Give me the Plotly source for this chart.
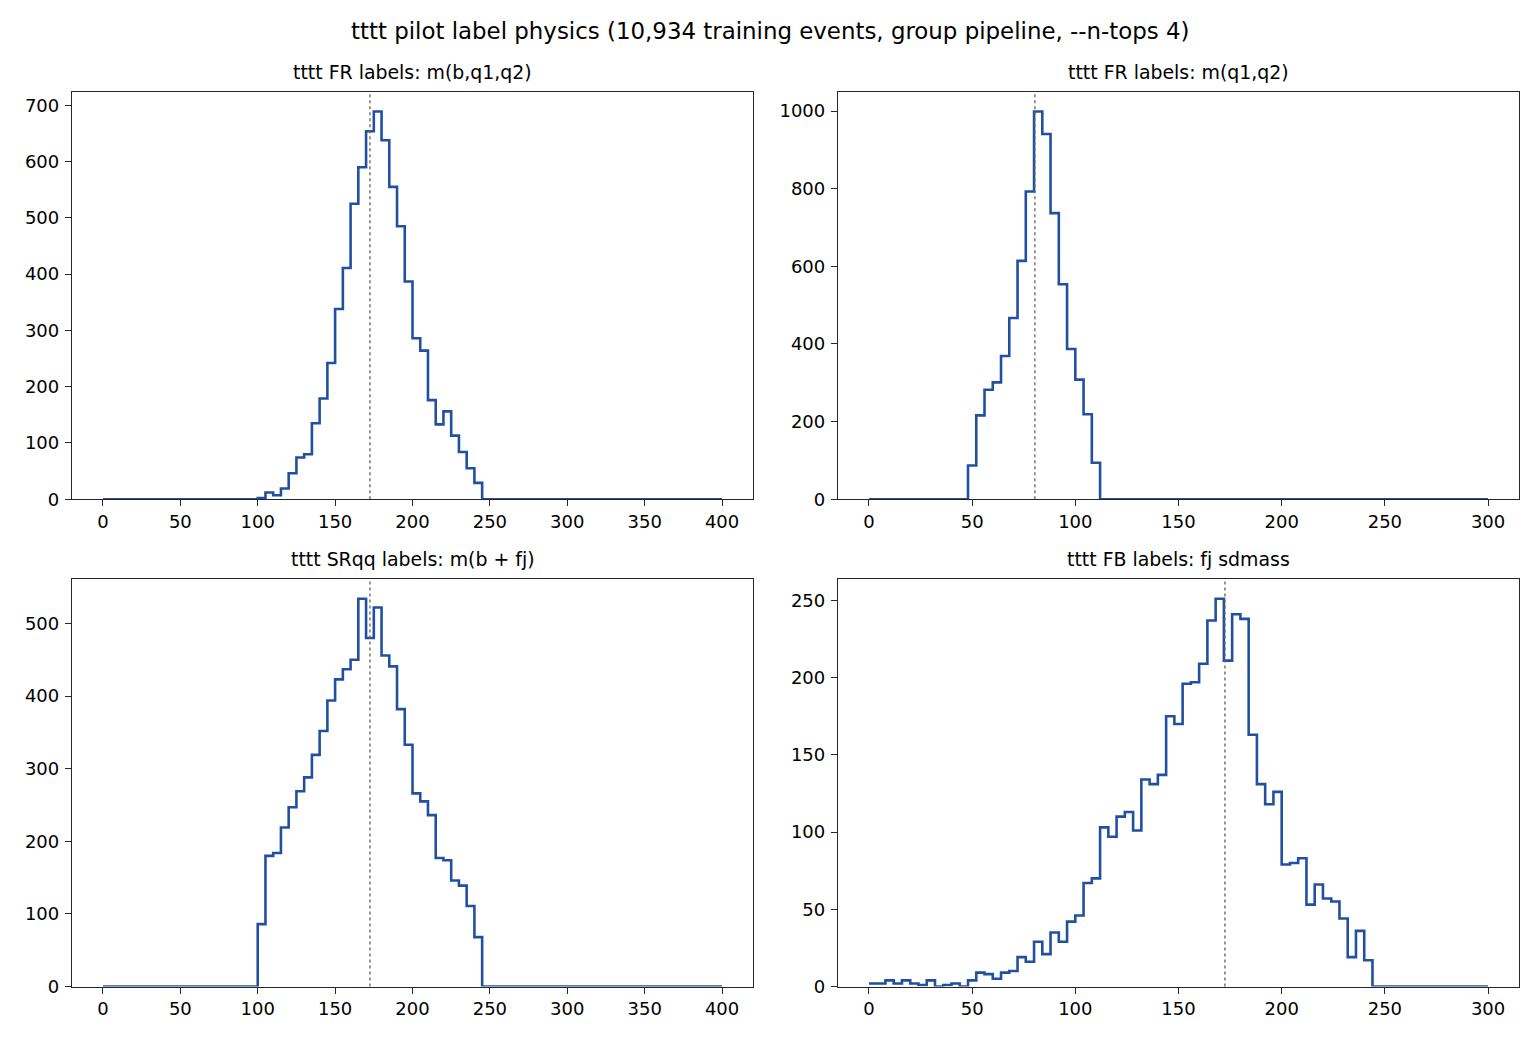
import numpy as np
import plotly.graph_objects as go

SUPTITLE = "tttt pilot label physics (10,934 training events, group pipeline, --n-tops 4)"

panel_titles = [
    "tttt FR labels: m(b,q1,q2)",
    "tttt FR labels: m(q1,q2)",
    "tttt SRqq labels: m(b + fj)",
    "tttt FB labels: fj sdmass",
]

# Histogram definitions: full range, bin width, first non-empty bin edge, counts
fr_bqq_range = (0, 400)
fr_bqq_width = 5
fr_bqq_first = 100
fr_bqq_counts = [2, 12, 7, 19, 46, 74, 80, 135, 179, 242, 338, 411, 525, 590, 654,
                 689, 638, 555, 485, 387, 286, 264, 176, 133, 156, 113, 84, 55, 29]

fr_qq_range = (0, 300)
fr_qq_width = 4
fr_qq_first = 48
fr_qq_counts = [87, 216, 282, 301, 369, 467, 614, 793, 999, 941, 737, 554, 387, 308, 219, 94]

srqq_range = (0, 400)
srqq_width = 5
srqq_first = 100
srqq_counts = [86, 180, 184, 219, 247, 269, 288, 319, 352, 394, 423, 437, 450, 534, 480,
               522, 456, 441, 382, 333, 266, 255, 236, 177, 174, 146, 139, 111, 68]

fb_range = (0, 300)
fb_width = 4
fb_first = 0
fb_counts = [2, 2, 4, 2, 4, 2, 1, 4, 0, 1, 2, 0, 4, 9, 8, 5, 9, 10, 19, 16, 29, 21, 35, 29,
             42, 46, 67, 70, 103, 97, 110, 113, 101, 134, 131, 137, 175, 170, 196, 197, 209,
             237, 251, 211, 241, 238, 163, 131, 118, 126, 79, 80, 83, 53, 66, 57, 55, 44, 19,
             36, 17]

ref_lines = [172.5, 80.4, 172.5, 172.5]

y_dtick = [100, 200, 100, 50]

hists = [
    (fr_bqq_range, fr_bqq_width, fr_bqq_first, fr_bqq_counts),
    (fr_qq_range, fr_qq_width, fr_qq_first, fr_qq_counts),
    (srqq_range, srqq_width, srqq_first, srqq_counts),
    (fb_range, fb_width, fb_first, fb_counts),
]

W, H = 1540, 1050
# plot-area boxes in pixels (left, right, top, bottom)
boxes = [(72, 753, 93, 504), (838, 1519, 93, 504), (72, 753, 585, 996), (838, 1519, 585, 996)]

LINE_COLOR = "#2150a0"
FONT = "DejaVu Sans"
AX_COLOR = "#262626"

fig = go.Figure()
layout = dict(
    autosize=True, margin=dict(l=0, r=0, t=0, b=0, pad=0),
    paper_bgcolor="white", plot_bgcolor="white", showlegend=False,
    font=dict(family=FONT, color="black", size=18),
)
annotations = []
shapes = []
for i, ((lo, hi), w, first, counts) in enumerate(hists):
    edges = np.arange(lo, hi + w / 2, w, dtype=float)
    full = np.zeros(len(edges) - 1)
    start = int(round((first - lo) / w))
    full[start:start + len(counts)] = counts
    xs = edges
    ys = np.append(full, full[-1])
    n = i + 1
    xa = "x" if n == 1 else f"x{n}"
    ya = "y" if n == 1 else f"y{n}"
    fig.add_trace(go.Scatter(x=xs, y=ys, mode="lines", line=dict(shape="hv", color=LINE_COLOR, width=2.6),
                             xaxis=xa, yaxis=ya, hoverinfo="skip"))
    l, r, t, b = boxes[i]
    xdom = [l / W, r / W]
    ydom = [1 - b / H, 1 - t / H]
    span = hi - lo
    ymax = max(counts) * 1.05
    axcommon = dict(showline=True, mirror=True, linecolor=AX_COLOR, linewidth=1.3,
                    ticks="outside", ticklen=6, tickwidth=1.3, tickcolor=AX_COLOR,
                    showgrid=False, zeroline=False, layer="above traces",
                    tickfont=dict(family=FONT, size=18, color="black"))
    layout["xaxis" if n == 1 else f"xaxis{n}"] = dict(
        domain=xdom, range=[lo - 0.05 * span, hi + 0.05 * span], anchor=ya,
        tick0=0, dtick=50, **axcommon)
    layout["yaxis" if n == 1 else f"yaxis{n}"] = dict(
        domain=ydom, range=[0, ymax], anchor=xa, tick0=0, dtick=y_dtick[i],
        ticklabelstandoff=2, **axcommon)
    shapes.append(dict(type="line", xref=xa, yref=f"{ya} domain", x0=ref_lines[i], x1=ref_lines[i],
                       y0=0, y1=1, line=dict(color="rgba(100,100,100,0.95)", width=1.4, dash="dot"),
                       layer="above"))
    annotations.append(dict(text=panel_titles[i], xref="paper", yref="paper",
                            x=(l + r) / 2 / W, y=1 - t / H, xanchor="center", yanchor="bottom",
                            yshift=7, showarrow=False, font=dict(family=FONT, size=18.9, color="black")))

annotations.append(dict(text=SUPTITLE, xref="paper", yref="paper", x=0.5, y=1 - 31 / H,
                        xanchor="center", yanchor="middle", showarrow=False,
                        font=dict(family=FONT, size=22.9, color="black")))
layout["annotations"] = annotations
layout["shapes"] = shapes
fig.update_layout(**layout)

post = (
    "document.documentElement.style.margin='0';"
    "document.documentElement.style.padding='0';"
    "document.documentElement.style.overflow='hidden';"
    "document.body.style.margin='0';"
    "document.body.style.padding='0';"
    "document.body.style.overflow='hidden';"
    "var gd=document.getElementById('{plot_id}');"
    "gd.style.display='block';"
    "Plotly.Plots.resize(gd);"
)

fig.write_html("out.html",
               default_width="100vw", default_height="100vh",
               config={"displayModeBar": False, "responsive": True},
               post_script=post)
